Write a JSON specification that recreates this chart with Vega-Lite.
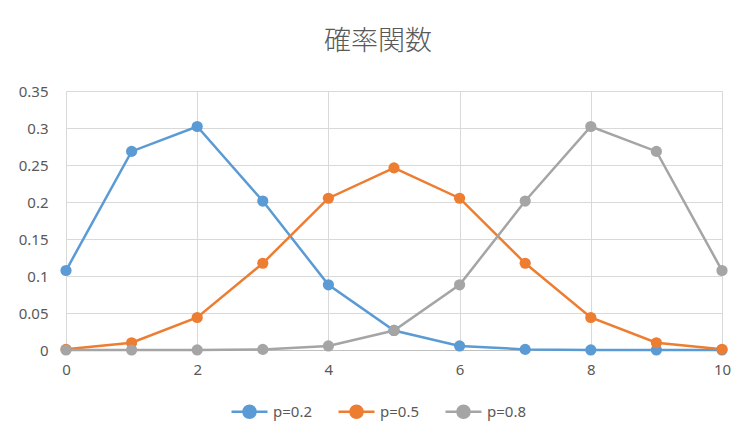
{
  "$schema": "https://vega.github.io/schema/vega-lite/v6.json",
  "autosize": "none",
  "width": 656,
  "height": 259,
  "padding": {"left": 66, "top": 91, "right": 34, "bottom": 97},
  "background": "white",
  "title": {
    "text": "確率関数",
    "font": "Noto Sans CJK JP",
    "fontSize": 27,
    "fontWeight": 300,
    "color": "#595959",
    "anchor": "middle",
    "dx": -16,
    "offset": 28
  },
  "data": {
    "values": [
      {"k": 0, "p": "p=0.2", "prob": 0.1074}, {"k": 1, "p": "p=0.2", "prob": 0.2684}, {"k": 2, "p": "p=0.2", "prob": 0.3020}, {"k": 3, "p": "p=0.2", "prob": 0.2013}, {"k": 4, "p": "p=0.2", "prob": 0.0881}, {"k": 5, "p": "p=0.2", "prob": 0.0264}, {"k": 6, "p": "p=0.2", "prob": 0.0055}, {"k": 7, "p": "p=0.2", "prob": 0.0008}, {"k": 8, "p": "p=0.2", "prob": 0.0001}, {"k": 9, "p": "p=0.2", "prob": 0.0}, {"k": 10, "p": "p=0.2", "prob": 0.0},
      {"k": 0, "p": "p=0.5", "prob": 0.0010}, {"k": 1, "p": "p=0.5", "prob": 0.0098}, {"k": 2, "p": "p=0.5", "prob": 0.0439}, {"k": 3, "p": "p=0.5", "prob": 0.1172}, {"k": 4, "p": "p=0.5", "prob": 0.2051}, {"k": 5, "p": "p=0.5", "prob": 0.2461}, {"k": 6, "p": "p=0.5", "prob": 0.2051}, {"k": 7, "p": "p=0.5", "prob": 0.1172}, {"k": 8, "p": "p=0.5", "prob": 0.0439}, {"k": 9, "p": "p=0.5", "prob": 0.0098}, {"k": 10, "p": "p=0.5", "prob": 0.0010},
      {"k": 0, "p": "p=0.8", "prob": 0.0}, {"k": 1, "p": "p=0.8", "prob": 0.0}, {"k": 2, "p": "p=0.8", "prob": 0.0001}, {"k": 3, "p": "p=0.8", "prob": 0.0008}, {"k": 4, "p": "p=0.8", "prob": 0.0055}, {"k": 5, "p": "p=0.8", "prob": 0.0264}, {"k": 6, "p": "p=0.8", "prob": 0.0881}, {"k": 7, "p": "p=0.8", "prob": 0.2013}, {"k": 8, "p": "p=0.8", "prob": 0.3020}, {"k": 9, "p": "p=0.8", "prob": 0.2684}, {"k": 10, "p": "p=0.8", "prob": 0.1074}
    ]
  },
  "mark": {"type": "line", "strokeWidth": 2.5, "point": {"filled": true, "size": 125, "opacity": 1}},
  "encoding": {
    "x": {
      "field": "k", "type": "quantitative",
      "scale": {"domain": [0, 10], "nice": false},
      "axis": {"title": null, "values": [0, 2, 4, 6, 8, 10], "grid": true, "ticks": false, "domain": true, "domainColor": "#BFBFBF", "domainWidth": 1, "labelPadding": 12, "labelFlush": false, "labelBound": false}
    },
    "y": {
      "field": "prob", "type": "quantitative",
      "scale": {"domain": [0, 0.35], "nice": false},
      "axis": {"title": null, "values": [0, 0.05, 0.1, 0.15, 0.2, 0.25, 0.3, 0.35], "format": ".2~f", "grid": true, "ticks": false, "domain": false, "labelPadding": 18, "labelFlush": false, "labelBound": false}
    },
    "color": {
      "field": "p", "type": "nominal",
      "scale": {"domain": ["p=0.2", "p=0.5", "p=0.8"], "range": ["#5B9BD5", "#ED7D31", "#A5A5A5"]},
      "legend": {
        "title": null,
        "orient": "none",
        "direction": "horizontal",
        "legendX": 170,
        "legendY": 307,
        "symbolType": "M-1.5,0H1.5M-0.5,0A0.5,0.5 0 1,1 0.5,0A0.5,0.5 0 1,1 -0.5,0Z",
        "symbolSize": 576,
        "symbolStrokeWidth": 2.5,
        "symbolOpacity": 1,
        "labelOffset": 10,
        "columnPadding": 21,
        "labelFont": "Noto Sans",
        "labelFontSize": 15,
        "labelColor": "#595959"
      }
    }
  },
  "config": {
    "view": {"stroke": null},
    "axis": {
      "gridColor": "#D9D9D9",
      "gridWidth": 1,
      "labelFont": "Noto Sans",
      "labelFontSize": 15,
      "labelColor": "#595959"
    }
  }
}
